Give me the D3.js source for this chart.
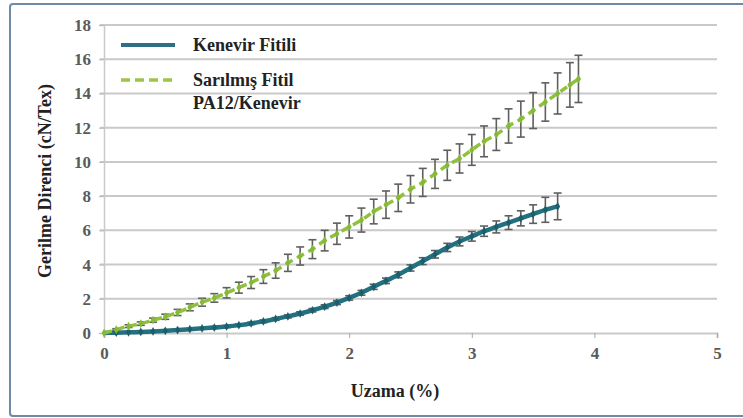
<!DOCTYPE html>
<html><head><meta charset="utf-8">
<script src="https://cdn.jsdelivr.net/npm/d3@7/dist/d3.min.js"></script>
<style>body{margin:0;background:#fff}svg{display:block}</style>
</head><body>
<svg id="c" width="743" height="418"></svg>
<script>
const xTicks = [0,1,2,3,4,5];
const yTicks = [0,2,4,6,8,10,12,14,16,18];
const seriesNames = ["Kenevir Fitili", "Sarılmış Fitil", "PA12/Kenevir"];

const greenX = [0,0.1,0.2,0.3,0.4,0.5,0.6,0.7,0.8,0.9,1.0,1.1,1.2,1.3,1.4,1.5,1.6,1.7,1.8,1.9,2.0,2.1,2.2,2.3,2.4,2.5,2.6,2.7,2.8,2.9,3.0,3.1,3.2,3.3,3.4,3.5,3.6,3.7,3.8,3.87];
const greenY = [0,0.2,0.4,0.55,0.75,0.95,1.2,1.5,1.8,2.05,2.35,2.65,2.95,3.3,3.65,4.1,4.5,4.9,5.4,5.8,6.2,6.6,7.1,7.5,7.9,8.4,8.8,9.3,9.8,10.2,10.7,11.2,11.6,12.1,12.5,13.0,13.5,14.0,14.5,14.85];
const greenErr = [0,0.05,0.08,0.1,0.12,0.15,0.18,0.2,0.23,0.25,0.3,0.32,0.35,0.4,0.45,0.5,0.53,0.55,0.6,0.62,0.65,0.7,0.72,0.8,0.8,0.8,0.82,0.85,0.88,0.85,0.9,0.9,0.93,1.0,1.05,1.05,1.12,1.2,1.3,1.38];

const blueX = [0.1,0.2,0.3,0.4,0.5,0.6,0.7,0.8,0.9,1.0,1.1,1.2,1.3,1.4,1.5,1.6,1.7,1.8,1.9,2.0,2.1,2.2,2.3,2.4,2.5,2.6,2.7,2.8,2.9,3.0,3.1,3.2,3.3,3.4,3.5,3.6,3.7];
const blueY = [0.02,0.04,0.06,0.09,0.13,0.17,0.22,0.27,0.32,0.38,0.46,0.56,0.68,0.82,0.97,1.14,1.33,1.54,1.78,2.05,2.35,2.7,3.05,3.4,3.8,4.2,4.6,5.0,5.35,5.65,5.95,6.2,6.45,6.7,6.95,7.2,7.4];
const blueErr = [0.02,0.02,0.03,0.03,0.04,0.04,0.05,0.05,0.06,0.06,0.07,0.07,0.08,0.08,0.09,0.1,0.1,0.11,0.12,0.13,0.14,0.15,0.16,0.17,0.18,0.2,0.22,0.24,0.26,0.28,0.3,0.35,0.4,0.44,0.54,0.73,0.78];

const svg = d3.select("#c");
const W = 743, H = 418;
const m = {l:104, r:26, t:25, b:85};
const x = d3.scaleLinear().domain([0,5]).range([m.l, W - m.r]);
const y = d3.scaleLinear().domain([0,18]).range([H - m.b, m.t]);
const SERIF = '"Liberation Serif"';

// frame
svg.append("rect").attr("x",10).attr("y",4).attr("width",745).attr("height",412)
  .attr("rx",3).attr("fill","#fff").attr("stroke","#6f8aa6").attr("stroke-width",2);

// gridlines
svg.append("g").selectAll("line").data(yTicks.filter(d=>d>0)).join("line")
  .attr("x1", x(0)-4).attr("x2", x(5)).attr("y1", d=>y(d)).attr("y2", d=>y(d))
  .attr("stroke","#c9c9c9").attr("stroke-width",2);

function styleTicks(g){
  g.attr("font-family", null);
  g.selectAll("text").style("font-family",SERIF).style("font-size","17px").style("font-weight","bold").attr("fill","#5a5a5a");
}
// y axis
const ya = svg.append("g").attr("transform",`translate(${x(0)},0)`)
  .call(d3.axisLeft(y).tickValues(yTicks).tickSize(5).tickPadding(8));
ya.select(".domain").attr("stroke","#c9c9c9").attr("stroke-width",1.5);
ya.selectAll(".tick line").attr("stroke","#bbb");
styleTicks(ya);

// x axis
const xa = svg.append("g").attr("transform",`translate(0,${y(0)})`)
  .call(d3.axisBottom(x).tickValues(xTicks).tickFormat(d3.format("d")).tickSize(5).tickPadding(9));
xa.select(".domain").attr("stroke","#c9c9c9").attr("stroke-width",2);
xa.selectAll(".tick line").attr("stroke","#aaa");
styleTicks(xa);

// axis titles
svg.append("text").attr("x", 395).attr("y", 397).attr("text-anchor","middle")
  .style("font-family",SERIF).style("font-size","18px").style("font-weight","bold").attr("fill","#222")
  .text("Uzama (%)");
svg.append("text").attr("transform",`translate(51,${(y(0)+y(18))/2+2}) rotate(-90)`).attr("text-anchor","middle")
  .style("font-family",SERIF).style("font-size","18px").style("font-weight","bold").attr("fill","#222")
  .text("Gerilme Direnci (cN/Tex)");

const green = greenX.map((d,i)=>({x:d,y:greenY[i],e:greenErr[i]}));
const blue = blueX.map((d,i)=>({x:d,y:blueY[i],e:blueErr[i]}));

function errBars(data, cap) {
  const g = svg.append("g").attr("stroke","#5f5f5f").attr("stroke-width",1.6);
  const dd = data.filter(d=>d.e>0);
  g.selectAll("line.v").data(dd).join("line").attr("class","v")
    .attr("x1",d=>x(d.x)).attr("x2",d=>x(d.x)).attr("y1",d=>y(d.y+d.e)).attr("y2",d=>y(d.y-d.e));
  g.selectAll("line.t").data(dd).join("line").attr("class","t")
    .attr("x1",d=>x(d.x)-cap).attr("x2",d=>x(d.x)+cap).attr("y1",d=>y(d.y+d.e)).attr("y2",d=>y(d.y+d.e));
  g.selectAll("line.b").data(dd).join("line").attr("class","b")
    .attr("x1",d=>x(d.x)-cap).attr("x2",d=>x(d.x)+cap).attr("y1",d=>y(d.y-d.e)).attr("y2",d=>y(d.y-d.e));
}

const line = d3.line().x(d=>x(d.x)).y(d=>y(d.y)).curve(d3.curveMonotoneX);

// blue
errBars(blue, 4);
svg.append("path").datum([{x:0,y:0},...blue]).attr("d",line).attr("fill","none")
  .attr("stroke","#23707f").attr("stroke-width",4.5);
svg.append("g").selectAll("path").data(blue).join("path")
  .attr("transform",d=>`translate(${x(d.x)},${y(d.y)})`)
  .attr("d", d3.symbol(d3.symbolDiamond, 22)).attr("fill","#1b5f6e");

// green
errBars(green, 4);
svg.append("path").datum(green).attr("d",line).attr("fill","none")
  .attr("stroke","#8fc13d").attr("stroke-width",3.5).attr("stroke-dasharray","8,5");
svg.append("g").selectAll("path").data(green).join("path")
  .attr("transform",d=>`translate(${x(d.x)},${y(d.y)})`)
  .attr("d", d3.symbol(d3.symbolDiamond, 22)).attr("fill","#86b83a");

// legend
svg.append("line").attr("x1",121).attr("x2",175).attr("y1",45).attr("y2",45)
  .attr("stroke","#2f6f86").attr("stroke-width",4);
svg.append("line").attr("x1",121).attr("x2",175).attr("y1",80).attr("y2",80)
  .attr("stroke","#9dc34a").attr("stroke-width",3.5).attr("stroke-dasharray","9,5");
const lt = svg.append("g").attr("fill","#222");
[[seriesNames[0],51],[seriesNames[1],86],[seriesNames[2],109]].forEach(([t,yy])=>{
  lt.append("text").attr("x",193).attr("y",yy)
    .style("font-family",SERIF).style("font-size","18px").style("font-weight","bold").text(t);
});
</script>
</body></html>
